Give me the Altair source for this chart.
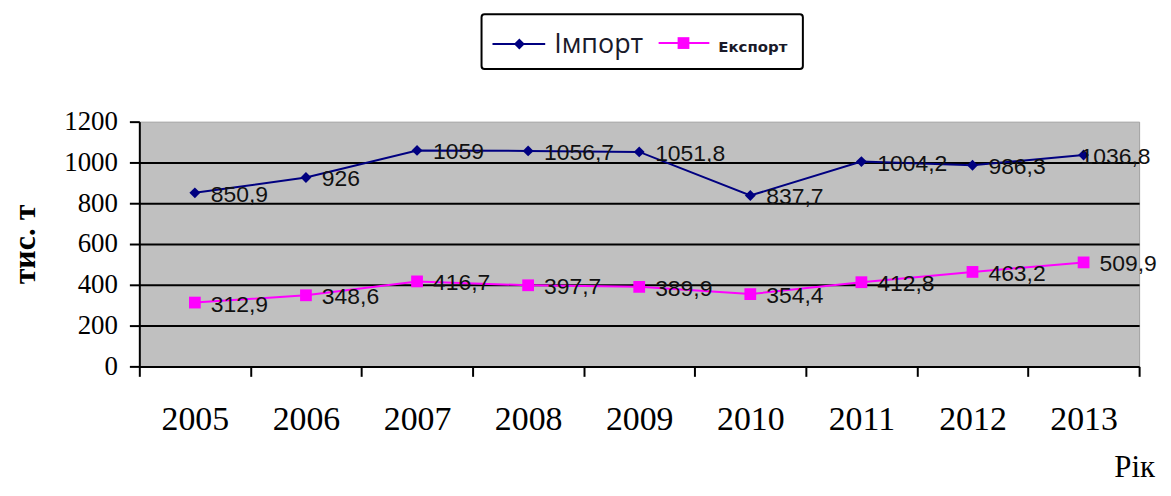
import altair as alt
import pandas as pd

years = [2005, 2006, 2007, 2008, 2009, 2010, 2011, 2012, 2013]
import_vals = [850.9, 926, 1059, 1056.7, 1051.8, 837.7, 1004.2, 986.3, 1036.8]
export_vals = [312.9, 348.6, 416.7, 397.7, 389.9, 354.4, 412.8, 463.2, 509.9]
series_names = ["Імпорт", "Експорт"]
series_colors = ["#000080", "#FF00FF"]
y_ticks = [0, 200, 400, 600, 800, 1000, 1200]


def fmt(v):
    s = ("%g" % v)
    return s.replace(".", ",")


rows = []
for y, v in zip(years, import_vals):
    rows.append({"Year": y, "Series": series_names[0], "Value": v, "Label": fmt(v)})
for y, v in zip(years, export_vals):
    rows.append({"Year": y, "Series": series_names[1], "Value": v, "Label": fmt(v)})
df = pd.DataFrame(rows)

x_vals = sorted([y - 0.5 for y in years] + [years[-1] + 0.5] + years)

x_enc = alt.X(
    "Year:Q",
    scale=alt.Scale(domain=[years[0] - 0.5, years[-1] + 0.5], nice=False, zero=False),
    axis=alt.Axis(
        values=x_vals,
        labelExpr="datum.value % 1 === 0 ? '' + datum.value : ''",
        labelOverlap=False,
        labelFont="Liberation Serif",
        labelFontSize=34,
        labelColor="black",
        labelPadding=26,
        labelBaseline="top",
        tickSize=10,
        tickWidth=2,
        tickColor="black",
        tickOpacity={"condition": {"test": "datum.value % 1 === 0", "value": 0}, "value": 1},
        domainColor="black",
        domainWidth=2,
        grid=False,
        title="Рік",
        titleFont="Liberation Serif",
        titleFontSize=31,
        titleFontWeight="normal",
        titleColor="black",
        titleX=1000,
        titleY=111,
        titleAlign="center",
        titleBaseline="alphabetic",
    ),
)

y_enc = alt.Y(
    "Value:Q",
    scale=alt.Scale(domain=[0, 1200], nice=False),
    axis=alt.Axis(
        values=y_ticks,
        format="d",
        labelFont="Liberation Serif",
        labelFontSize=27,
        labelColor="black",
        labelPadding=12,
        tickSize=10,
        tickWidth=2,
        tickColor="black",
        domainColor="black",
        domainWidth=2,
        grid=True,
        gridColor="black",
        gridWidth=2,
        gridOpacity={"condition": {"test": "datum.value === 1200 || datum.value === 0", "value": 0}, "value": 1},
        title="тис. т",
        titleFont="Liberation Serif",
        titleFontSize=32,
        titleFontWeight="bold",
        titleColor="black",
        titleAngle=270,
        titleX=-115,
        titleY=123,
        titleAlign="center",
        titleBaseline="middle",
    ),
)

color_enc = alt.Color(
    "Series:N",
    scale=alt.Scale(domain=series_names, range=series_colors),
    legend=None,
)

base = alt.Chart(df)

lines = base.mark_line(strokeWidth=2).encode(x=x_enc, y=y_enc, color=color_enc, detail="Series:N")

pts_imp = base.transform_filter(alt.datum.Series == series_names[0]).mark_point(
    shape="diamond", filled=True, size=120, opacity=1, color=series_colors[0]
).encode(x="Year:Q", y="Value:Q")

pts_exp = base.transform_filter(alt.datum.Series == series_names[1]).mark_point(
    shape="square", filled=True, size=140, opacity=1, color=series_colors[1]
).encode(x="Year:Q", y="Value:Q")

is_last_imp = "datum.Year === %d && datum.Series === '%s'" % (years[-1], series_names[0])

labels = base.transform_filter("!(" + is_last_imp + ")").mark_text(
    align="left", baseline="middle", dx=16, dy=2,
    font="Liberation Sans", fontSize=23, color="#111111",
).encode(x="Year:Q", y="Value:Q", text="Label:N")

label_last = base.transform_filter(is_last_imp).mark_text(
    align="left", baseline="middle", dx=-3, dy=2,
    font="Liberation Sans", fontSize=23, color="#111111",
).encode(x="Year:Q", y="Value:Q", text="Label:N")

one = pd.DataFrame({"k": [0]})

leg_box = alt.Chart(one).mark_rect(
    fill="white", stroke="black", strokeWidth=2, cornerRadius=3
).encode(x=alt.value(344), x2=alt.value(667), y=alt.value(-108), y2=alt.value(-53))

leg_line1 = alt.Chart(one).mark_rule(color=series_colors[0], strokeWidth=2).encode(
    x=alt.value(355), x2=alt.value(408), y=alt.value(-78)
)
leg_pt1 = alt.Chart(one).mark_point(shape="diamond", filled=True, size=120, opacity=1, color=series_colors[0]).encode(
    x=alt.value(382), y=alt.value(-78)
)
leg_txt1 = alt.Chart(one).mark_text(
    align="left", baseline="middle", font="Open Sans", fontSize=27, color="#1a1a2a"
).encode(x=alt.value(417), y=alt.value(-77), text=alt.value(series_names[0]))

leg_line2 = alt.Chart(one).mark_rule(color=series_colors[1], strokeWidth=2).encode(
    x=alt.value(522), x2=alt.value(573), y=alt.value(-79)
)
leg_pt2 = alt.Chart(one).mark_point(shape="square", filled=True, size=140, opacity=1, color=series_colors[1]).encode(
    x=alt.value(547), y=alt.value(-79)
)
leg_txt2 = alt.Chart(one).mark_text(
    align="left", baseline="middle", font="DejaVu Sans", fontSize=15, fontWeight="bold", color="#1a1a2a"
).encode(x=alt.value(582), y=alt.value(-75), text=alt.value(series_names[1]))

chart = alt.layer(
    lines, pts_imp, pts_exp, labels, label_last,
    leg_box, leg_line1, leg_pt1, leg_txt1, leg_line2, leg_pt2, leg_txt2,
).properties(
    width=1005,
    height=246,
    padding={"left": 132, "top": 113, "right": 24, "bottom": 121},
    autosize=alt.AutoSizeParams(type="none"),
    background="white",
).configure_view(
    fill="#C0C0C0",
    stroke="#A0A0A0",
    strokeWidth=1,
)

chart.save("out.html", embed_options={"renderer": "svg", "actions": False})
